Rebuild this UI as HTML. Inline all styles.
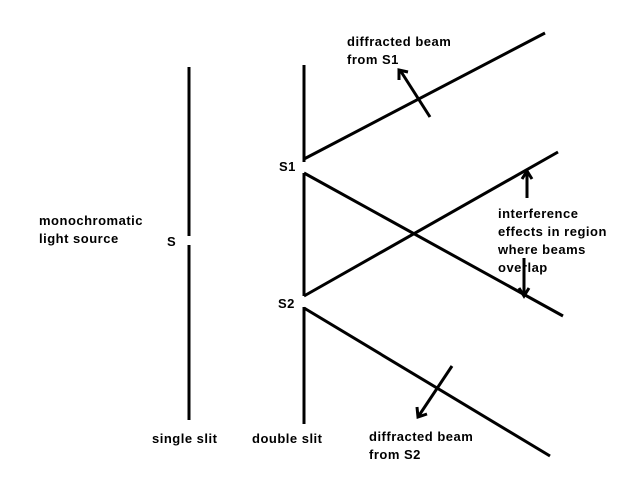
<!DOCTYPE html>
<html><head><meta charset="utf-8"><style>
html,body{margin:0;padding:0;background:#fff;}
body{width:626px;height:480px;overflow:hidden;}
text{font-family:"Liberation Sans",Arial,sans-serif;font-size:13px;font-weight:bold;fill:#000;letter-spacing:0.5px;}
</style></head><body>
<svg width="626" height="480" xmlns="http://www.w3.org/2000/svg">
<g stroke="#000" stroke-width="3" fill="none">
<line x1="189" y1="67" x2="189" y2="236"/>
<line x1="189" y1="245" x2="189" y2="420"/>
<line x1="304" y1="65" x2="304" y2="162"/>
<line x1="304" y1="173" x2="304" y2="296"/>
<line x1="304" y1="307" x2="304" y2="424"/>
<line x1="304" y1="159" x2="545" y2="33"/>
<line x1="304" y1="173" x2="563" y2="316"/>
<line x1="304" y1="296" x2="558" y2="152"/>
<line x1="304" y1="308" x2="550" y2="456"/>
<line x1="430" y1="117" x2="400" y2="70"/>
<polyline points="399,80 399,70 408,72"/>
<line x1="527" y1="198" x2="527" y2="172"/>
<polyline points="522,179 527,171 532,179"/>
<line x1="524" y1="258" x2="524" y2="295"/>
<polyline points="519,288 524,296 529,288"/>
<line x1="452" y1="366" x2="418" y2="417"/>
<polyline points="417,407 418,417 427,414"/>
</g>
<text x="347" y="46">diffracted beam</text>
<text x="347" y="64">from S1</text>
<text x="39" y="225">monochromatic</text>
<text x="39" y="243">light source</text>
<text x="167" y="246">S</text>
<text x="279" y="171">S1</text>
<text x="278" y="308">S2</text>
<text x="498" y="218">interference</text>
<text x="498" y="236">effects in region</text>
<text x="498" y="254">where beams</text>
<text x="498" y="272">overlap</text>
<text x="152" y="443">single slit</text>
<text x="252" y="443">double slit</text>
<text x="369" y="441">diffracted beam</text>
<text x="369" y="459">from S2</text>
</svg>
</body></html>
